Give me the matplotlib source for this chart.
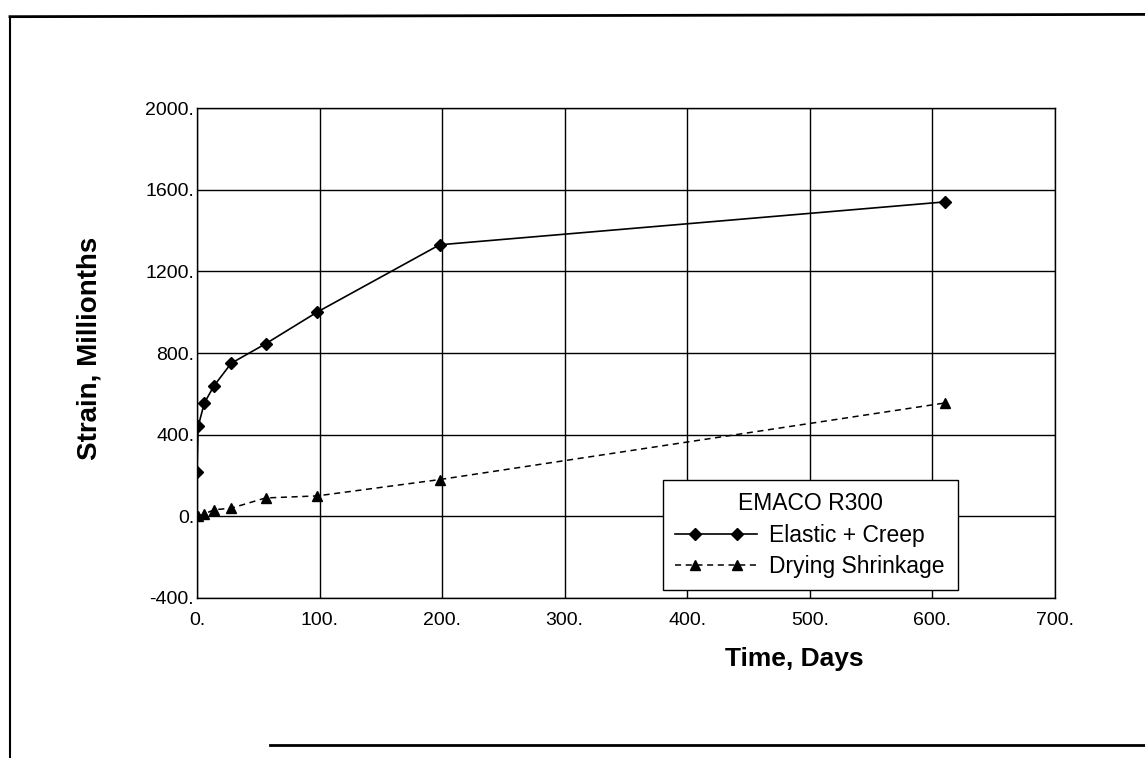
import matplotlib

matplotlib.use('Agg')
import matplotlib.pyplot as plt
from matplotlib.lines import Line2D
from matplotlib.legend_handler import HandlerLine2D

# data (days, millionths)
creep_days = [0, 1, 6, 14, 28, 56, 98, 198, 610]
creep_strain = [217, 440, 555, 640, 750, 845, 1000, 1330, 1540]
shrink_days = [1, 6, 14, 28, 56, 98, 198, 610]
shrink_strain = [0, 12, 32, 40, 90, 100, 180, 555]

x_ticks = [0, 100, 200, 300, 400, 500, 600, 700]
x_labels = ['0.', '100.', '200.', '300.', '400.', '500.', '600.', '700.']
y_ticks = [-400, 0, 400, 800, 1200, 1600, 2000]
y_labels = ['-400.', '0.', '400.', '800.', '1200.', '1600.', '2000.']


class FullLineHandler(HandlerLine2D):
    # line runs over the whole handle, markers sit inset from the ends
    def create_artists(self, legend, orig_handle, xdescent, ydescent, width, height, fontsize, trans):
        arts = super().create_artists(legend, orig_handle, xdescent, ydescent, width, height, fontsize, trans)
        mk = arts[-1]
        y = (height - ydescent) / 2
        line = Line2D([-xdescent, -xdescent + width], [y, y])
        line.update_from(orig_handle)
        line.set_marker('')
        line.set_transform(trans)
        mk.set_linestyle('None')
        return [line, mk]


def main():
    plt.rcParams['font.family'] = ['Liberation Sans', 'DejaVu Sans']

    fig = plt.figure(figsize=(11.45, 7.58), dpi=100)
    ax = fig.add_axes([0.172, 0.2111, 0.7493, 0.6464])

    ax.plot(creep_days, creep_strain, color='black', lw=1.2, marker='D', ms=6,
            label='Elastic + Creep')
    ax.plot(shrink_days, shrink_strain, color='black', lw=1.1, ls=(0, (4, 3)), marker='^', ms=6.5,
            label='Drying Shrinkage')

    ax.set_xlim(0, 700)
    ax.set_ylim(-400, 2000)
    ax.set_xticks(x_ticks)
    ax.set_xticklabels(x_labels)
    ax.set_yticks(y_ticks)
    ax.set_yticklabels(y_labels)
    ax.tick_params(length=0, labelsize=14)
    ax.tick_params(axis='x', pad=10)
    ax.tick_params(axis='y', pad=2)
    ax.grid(True, color='black', lw=1.0)
    for s in ax.spines.values():
        s.set_color('black')
        s.set_linewidth(1.0)

    ax.set_xlabel('Time, Days', fontsize=19, fontweight='bold')
    ax.xaxis.set_label_coords(0.696, -0.10)
    ax.set_ylabel('Strain, Millionths', fontsize=20, fontweight='bold')
    ax.yaxis.set_label_coords(-0.11, 0.51)

    leg = ax.legend(title='EMACO R300', loc='lower left', bbox_to_anchor=(0.543, 0.016, 0.344, 0.22),
                    mode='expand', fontsize=16.5, title_fontsize=16.5, handlelength=3.6,
                    handletextpad=0.5, borderpad=0.52, labelspacing=0.38, borderaxespad=0,
                    fancybox=False, framealpha=1, edgecolor='black',
                    handler_map={Line2D: FullLineHandler(numpoints=2, marker_pad=0.9)})
    leg.get_frame().set_linewidth(1.0)

    # page border of the scanned sheet
    fig.add_artist(Line2D([0.0087, 1.0], [0.978, 0.981], color='black', lw=2.0))
    fig.add_artist(Line2D([0.0087, 0.0087], [0.978, 0.0], color='black', lw=1.5))
    fig.add_artist(Line2D([0.236, 1.0], [0.017, 0.017], color='black', lw=2.0))

    fig.savefig('out.png', dpi=100)


if __name__ == '__main__':
    main()
